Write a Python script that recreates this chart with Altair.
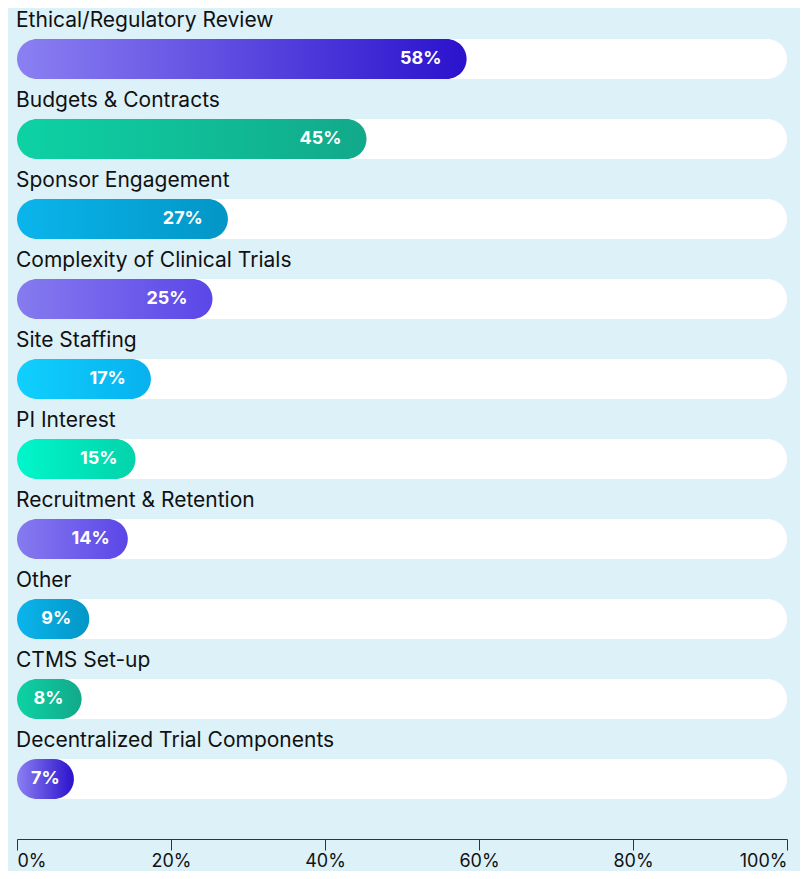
import altair as alt
import pandas as pd

categories = [
    "Ethical/Regulatory Review",
    "Budgets & Contracts",
    "Sponsor Engagement",
    "Complexity of Clinical Trials",
    "Site Staffing",
    "PI Interest",
    "Recruitment & Retention",
    "Other",
    "CTMS Set-up",
    "Decentralized Trial Components",
]
values = [58, 45, 27, 25, 17, 15, 14, 9, 8, 7]
gradient_keys = ["violet", "green", "blue", "lavender", "cyan", "teal",
                 "lavender", "blue", "green", "violet"]
x_ticks = [0, 20, 40, 60, 80, 100]

gradients = {
    "violet": ("#8b80f2", "#2b12cd"),
    "green": ("#0dd2a4", "#12a98a"),
    "blue": ("#0ab5ec", "#0396c6"),
    "lavender": ("#867bef", "#5b46e8"),
    "cyan": ("#10d0fe", "#07b1ee"),
    "teal": ("#00f6ca", "#04d3aa"),
}

df = pd.DataFrame({
    "category": categories,
    "value": values,
    "grad": gradient_keys,
    "full": [100] * len(categories),
    "zero": [0] * len(categories),
})
df["label"] = df["value"].astype(str) + "%"

FONT = "Inter"
BG = "#ddf1f9"

y_enc = alt.Y("category:N", sort=categories, axis=None,
              scale=alt.Scale(paddingInner=0.5, paddingOuter=0.25))
x_scale = alt.Scale(domain=[0, 100], nice=False)

base = alt.Chart(df)

track = base.mark_bar(cornerRadius=20, color="white").encode(
    x=alt.X("zero:Q", scale=x_scale,
            axis=alt.Axis(values=x_ticks, labelExpr="datum.value + '%'",
                          title=None, grid=False, offset=20, tickSize=11,
                          domainColor="#333333", tickColor="#333333",
                          domainWidth=1, tickWidth=1,
                          labelFontSize=18, labelColor="#111111",
                          labelFont=FONT, labelFlush=True, labelPadding=2)),
    x2="full:Q",
    y=y_enc,
)

layers = [track]
for key, (c1, c2) in gradients.items():
    grad = alt.LinearGradient(
        gradient="linear", x1=0, y1=0, x2=1, y2=0,
        stops=[alt.GradientStop(color=c1, offset=0),
               alt.GradientStop(color=c2, offset=1)],
    )
    layers.append(
        base.transform_filter(alt.datum.grad == key)
        .mark_bar(cornerRadius=20, color=grad, x2Offset=3)
        .encode(x=alt.X("zero:Q", scale=x_scale), x2="value:Q", y=y_enc)
    )

pct = base.transform_calculate(
    lx="max(datum.value < 16 ? datum.value + 0.9 : datum.value, 8.4)"
).mark_text(
    align="right", baseline="middle", dx=-22, color="white",
    fontSize=18, fontWeight="bold", font=FONT).encode(
    x=alt.X("lx:Q", scale=x_scale), y=y_enc, text="label:N")

cat = base.mark_text(align="left", baseline="middle", dy=-38, dx=-1,
                     color="#111111", fontSize=21, font=FONT).encode(
    x=alt.value(0), y=y_enc, text="category:N")

layers += [pct, cat]

chart = alt.layer(*layers).properties(
    width=770, height=800,
    background=BG,
    padding={"left": 9, "top": 11, "right": 13, "bottom": 52},
    autosize=alt.AutoSizeParams(type="none"),
).configure_view(stroke=None)

chart.save("out.html", embed_options={"renderer": "svg", "actions": False})
